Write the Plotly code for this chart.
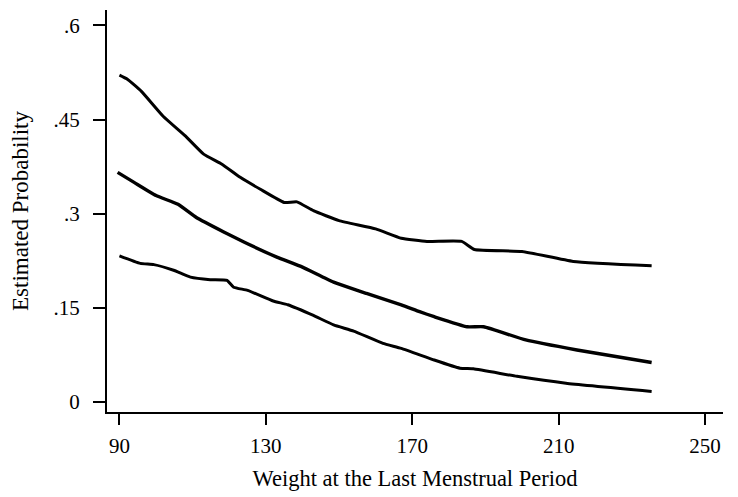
import plotly.graph_objects as go

# Weight at last menstrual period (x) and estimated probabilities (y)
upper_x = [90, 92, 96, 102, 108, 113, 118, 123, 128.5, 135, 138.5, 143, 150, 160, 167, 174, 183.5, 187, 200, 214, 235.4]
upper_y = [0.521, 0.515, 0.495, 0.455, 0.424, 0.395, 0.379, 0.358, 0.339, 0.318, 0.319, 0.305, 0.289, 0.276, 0.261, 0.256, 0.256, 0.243, 0.240, 0.224, 0.217]

middle_x = [89.5, 94, 100, 106, 111, 118.5, 124, 133, 140, 148.5, 157.5, 167, 172, 176, 185, 189.5, 201, 215, 235.4]
middle_y = [0.366, 0.350, 0.329, 0.315, 0.294, 0.271, 0.255, 0.231, 0.215, 0.191, 0.173, 0.155, 0.144, 0.136, 0.120, 0.120, 0.099, 0.083, 0.063]

lower_x = [90, 95.7, 99.4, 104.8, 109.4, 114.8, 119.4, 121.2, 125, 132, 136, 143, 148.5, 154, 162, 167, 176, 183, 186.7, 198.6, 212, 235.4]
lower_y = [0.233, 0.221, 0.219, 0.210, 0.199, 0.195, 0.194, 0.183, 0.178, 0.161, 0.155, 0.138, 0.123, 0.113, 0.0935, 0.0856, 0.067, 0.054, 0.053, 0.041, 0.030, 0.017]

x_ticks = [90, 130, 170, 210, 250]
y_ticks = [0, 0.15, 0.3, 0.45, 0.6]
y_tick_labels = ["0", ".15", ".3", ".45", ".6"]

fig = go.Figure()
for xs, ys, w in [(upper_x, upper_y, 3), (middle_x, middle_y, 3.4), (lower_x, lower_y, 3)]:
    fig.add_trace(go.Scatter(x=xs, y=ys, mode="lines",
                             line=dict(color="black", width=w, shape="spline", smoothing=0.4),
                             showlegend=False))

font = "Liberation Serif, Times New Roman, serif"
fig.update_layout(
    width=738, height=497,
    margin=dict(l=107, r=15, t=10, b=83),
    paper_bgcolor="white", plot_bgcolor="white",
    font=dict(family=font, color="black", size=21),
)
fig.update_xaxes(
    range=[86.6, 254.9], tickvals=x_ticks, ticktext=[str(v) for v in x_ticks],
    showline=True, linecolor="black", linewidth=2, showgrid=False, zeroline=False,
    ticks="outside", ticklen=11, tickwidth=2, tickcolor="black",
    tickfont=dict(size=21), ticklabelstandoff=3,
    title=dict(text="Weight at the Last Menstrual Period", font=dict(size=22.5), standoff=13),
)
fig.update_yaxes(
    range=[-0.0158, 0.6246], tickvals=y_ticks, ticktext=y_tick_labels,
    showline=True, linecolor="black", linewidth=2, showgrid=False, zeroline=False,
    ticks="outside", ticklen=12, tickwidth=2, tickcolor="black",
    tickfont=dict(size=21), ticklabelstandoff=9,
    title=dict(text="Estimated Probability", font=dict(size=23), standoff=18),
)

fig.write_html("out.html", config={"displayModeBar": False},
               post_script="document.body.style.margin='0';document.body.style.overflow='hidden';")
